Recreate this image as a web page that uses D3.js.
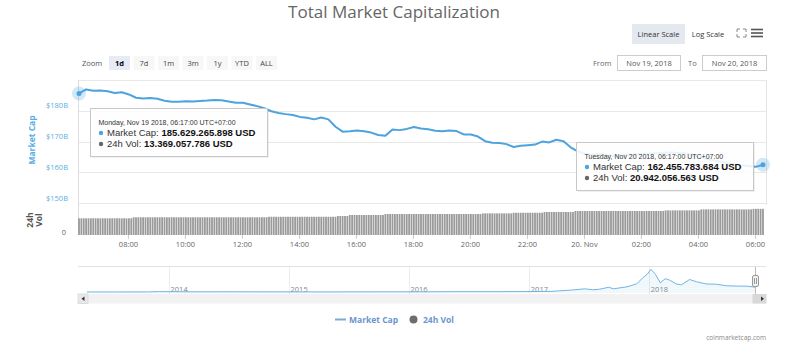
<!DOCTYPE html>
<html>
<head>
<meta charset="utf-8">
<title>Total Market Capitalization</title>
<script src="https://cdn.jsdelivr.net/npm/d3@7"></script>
<style>
  body { margin: 0; background: #fff; }
  text { font-family: "Open Sans", sans-serif; }
</style>
</head>
<body>
<div id="chart"></div>
<script>
// market cap in billions USD, one point every 15 min from Nov 19 2018 06:17
const capStart = Date.UTC(2018, 10, 19, 6, 17);
const capStepMin = 15;
const marketCap = [
  185.63, 186.94, 186.5, 186.6, 186.35, 185.77, 186.0, 185.3, 184.23, 184.0,
  184.14, 183.9, 183.26, 182.93, 182.93, 183.1, 183.0, 183.16, 183.3, 183.5,
  183.4, 183.0, 182.6, 182.6, 182.05, 181.5, 180.8, 179.84, 179.3, 178.9,
  178.6, 178.0, 177.7, 177.2, 177.8, 177.2, 174.8, 173.2, 173.3, 173.6,
  173.3, 172.9, 172.1, 171.86, 173.9, 173.7, 174.1, 174.7, 174.2, 174.0,
  173.5, 173.35, 173.6, 173.4, 172.3, 172.25, 171.6, 170.1, 169.6, 169.5,
  169.15, 168.2, 168.6, 168.8, 169.0, 169.97, 169.7, 170.55, 170.06, 168.1,
  166.8, 166.0, 165.7, 166.0, 165.7, 165.3, 165.5, 165.7, 165.8, 166.0,
  166.06, 166.2, 166.3, 166.4, 166.3, 166.15, 165.7, 165.0, 164.4, 163.9,
  163.4, 162.9, 162.6, 162.25, 162.0, 161.76, 162.46
];

// 24h volume in billions USD, one bar every 5 min (one row = one hour)
const volStepMin = 5;
const volume24h = [
  13.37,13.37,13.37,13.37,13.37,13.37,13.37,13.37,13.37,13.37,13.37,13.37,
  13.37,13.37,13.37,13.37,13.37,13.37,13.37,13.37,13.37,13.37,13.37,14.2,
  14.2,14.2,14.2,14.2,14.2,14.2,14.2,14.2,14.2,14.2,14.2,14.2,
  14.2,14.2,14.2,14.2,14.2,14.2,14.2,14.2,14.2,14.2,14.2,14.2,
  14.2,14.2,14.2,14.2,14.2,14.2,14.2,14.2,14.2,14.2,14.2,14.2,
  14.2,14.2,14.2,14.2,14.2,14.2,14.2,14.2,14.2,14.2,14.2,14.2,
  14.2,14.2,14.2,14.2,14.2,14.2,14.2,14.2,14.6,14.6,14.6,14.6,
  14.6,14.6,14.6,14.6,14.6,14.6,14.6,14.6,14.6,14.6,14.6,14.6,
  14.6,14.6,14.6,14.6,14.6,14.6,14.6,14.6,14.6,14.6,14.6,14.6,
  14.6,15.2,15.2,15.2,15.2,15.2,16.0,16.0,16.0,16.0,16.0,16.0,
  16.0,16.0,16.0,16.0,16.0,16.0,16.0,16.0,16.0,16.8,16.8,16.8,
  16.8,16.8,16.8,16.8,16.8,16.8,16.8,16.8,16.8,16.8,16.8,16.8,
  16.8,16.8,16.8,16.8,16.8,16.8,16.8,16.8,16.8,16.8,16.8,16.8,
  16.8,16.8,16.8,16.8,16.8,16.8,16.8,16.8,16.8,16.8,16.8,16.8,
  16.8,16.8,17.3,17.3,17.3,17.3,17.3,17.3,17.3,17.3,17.3,17.3,
  17.3,17.3,17.3,17.8,17.8,17.8,17.8,17.8,17.8,17.8,17.8,17.8,
  17.8,17.8,17.8,17.8,18.4,18.4,18.4,18.4,18.4,18.4,18.4,18.4,
  18.4,18.4,18.4,18.4,18.4,19.2,19.2,19.2,19.2,19.2,19.2,19.2,
  19.2,19.2,19.2,19.2,19.2,19.2,19.2,19.2,19.2,19.2,19.2,19.2,
  19.2,19.2,19.2,19.2,19.2,19.2,19.2,19.2,19.2,19.2,19.2,19.2,
  19.2,19.2,19.2,19.2,19.2,19.2,19.2,19.7,19.7,19.7,19.7,19.7,
  19.7,19.7,19.7,19.7,19.7,19.7,19.7,19.7,19.7,19.7,20.5,20.5,
  20.5,20.5,20.5,20.5,20.5,20.5,20.5,20.5,20.5,20.5,20.5,20.5,
  20.5,20.5,20.5,20.5,20.5,20.5,20.5,20.5,20.94,20.94,20.94,20.94,
  20.94
];

const capTicks = [150, 160, 170, 180, 190];
const capTickLabels = ["$150B", "$160B", "$170B", "$180B", ""];

// navigator: whole history of total market cap, billions USD
const navDates = [
  "2013-04-28", "2013-08-01", "2013-11-01", "2013-12-04", "2014-01-15", "2014-04-01",
  "2014-07-01", "2014-10-01", "2015-01-15", "2015-06-01", "2015-11-05", "2016-03-01",
  "2016-06-15", "2016-10-01", "2017-01-05", "2017-03-10", "2017-05-14", "2017-06-20",
  "2017-07-16", "2017-08-04", "2017-09-01", "2017-09-15", "2017-10-26", "2017-11-25",
  "2017-12-13", "2017-12-28", "2018-01-07", "2018-01-21", "2018-02-05", "2018-02-20",
  "2018-03-05", "2018-03-26", "2018-04-10", "2018-05-05", "2018-05-26", "2018-06-25",
  "2018-07-26", "2018-08-25", "2018-09-24", "2018-10-26", "2018-11-20"
];
const navValues = [
  1.5, 1.3, 3, 14, 10, 6,
  8, 5.5, 3.5, 3.8, 6, 7,
  12, 11, 17, 22, 72, 115,
  80, 100, 170, 115, 185, 290,
  505, 650, 820, 640, 330, 480,
  430, 290, 260, 450, 370, 290,
  280, 225, 215, 210, 175
];
const navYears = ["2014", "2015", "2016", "2017", "2018"];

const zoomButtons = ["1d", "7d", "1m", "3m", "1y", "YTD", "ALL"];

const W = 803, H = 351;
const lineColor = "#4ca3dd";

const svg = d3.select("#chart").append("svg")
    .attr("width", W)
    .attr("height", H);

// title
svg.append("text")
    .attr("x", 394).attr("y", 17.5)
    .attr("text-anchor", "middle")
    .attr("font-size", 17)
    .attr("fill", "#666")
    .text("Total Market Capitalization");

// scale buttons top right
svg.append("rect").attr("x", 632).attr("y", 24).attr("width", 53).attr("height", 20).attr("fill", "#e4e8ef");
svg.append("text").attr("x", 658.5).attr("y", 36.5).attr("text-anchor", "middle")
    .attr("font-size", 7.5).attr("fill", "#333").text("Linear Scale");
svg.append("text").attr("x", 708).attr("y", 36.5).attr("text-anchor", "middle")
    .attr("font-size", 7.5).attr("fill", "#333").text("Log Scale");

// fullscreen icon
const fs = svg.append("g").attr("stroke", "#888").attr("stroke-width", 1).attr("fill", "none");
[[737, 29, 1, 1], [746, 29, -1, 1], [737, 37, 1, -1], [746, 37, -1, -1]].forEach(([cx, cy, dx, dy]) => {
  fs.append("path").attr("d", `M${cx},${cy + 3 * dy} L${cx},${cy} L${cx + 3 * dx},${cy}`);
});
// menu icon
[29.5, 33, 36.5].forEach(yy => {
  svg.append("line").attr("x1", 751).attr("x2", 763).attr("y1", yy).attr("y2", yy)
      .attr("stroke", "#555").attr("stroke-width", 1.6);
});

// zoom buttons
svg.append("text").attr("x", 82).attr("y", 65.5).attr("font-size", 7.5).attr("fill", "#555").text("Zoom");
zoomButtons.forEach((b, i) => {
  const bx = 109 + i * 24.5;
  svg.append("rect").attr("x", bx).attr("y", 56).attr("width", 21).attr("height", 14)
      .attr("fill", i === 0 ? "#e6ebf5" : "#f7f7f7");
  svg.append("text").attr("x", bx + 10.5).attr("y", 65.5).attr("text-anchor", "middle")
      .attr("font-size", 7.5)
      .attr("font-weight", i === 0 ? "bold" : "normal")
      .attr("fill", i === 0 ? "#000" : "#444")
      .text(b);
});

// from / to inputs
svg.append("text").attr("x", 593).attr("y", 65.5).attr("font-size", 7.5).attr("fill", "#666").text("From");
svg.append("rect").attr("x", 617.5).attr("y", 55.5).attr("width", 63).attr("height", 15)
    .attr("fill", "#fff").attr("stroke", "#ccc");
svg.append("text").attr("x", 649).attr("y", 65.5).attr("text-anchor", "middle").attr("font-size", 7.5)
    .attr("fill", "#555").text("Nov 19, 2018");
svg.append("text").attr("x", 688).attr("y", 65.5).attr("font-size", 7.5).attr("fill", "#666").text("To");
svg.append("rect").attr("x", 702.5).attr("y", 55.5).attr("width", 64).attr("height", 15)
    .attr("fill", "#fff").attr("stroke", "#ccc");
svg.append("text").attr("x", 734.5).attr("y", 65.5).attr("text-anchor", "middle").attr("font-size", 7.5)
    .attr("fill", "#555").text("Nov 20, 2018");

// scales
const t0 = new Date(capStart);
const t1 = new Date(capStart + 24 * 3600 * 1000);
const x = d3.scaleUtc().domain([t0, t1]).range([79, 763]);
const yCap = d3.scaleLinear().domain([150, 190]).range([203, 80]);
const yVol = d3.scaleLinear().domain([0, 24]).range([235, 205]);

const capData = marketCap.map((v, i) => ({ t: new Date(capStart + i * capStepMin * 60000), v }));
const volData = volume24h.map((v, i) => ({ t: new Date(capStart + i * volStepMin * 60000), v }));

// grid
svg.append("g").selectAll("line").data(capTicks).join("line")
    .attr("x1", 78).attr("x2", 766)
    .attr("y1", d => Math.round(yCap(d)) + 0.5).attr("y2", d => Math.round(yCap(d)) + 0.5)
    .attr("stroke", "#e8e8e8");
svg.append("g").selectAll("text").data(capTicks).join("text")
    .attr("x", 68).attr("y", d => yCap(d) - 2.5)
    .attr("text-anchor", "end")
    .attr("font-size", 7.5)
    .attr("fill", "#5aaee3")
    .text((d, i) => capTickLabels[i]);

// frame lines
svg.append("line").attr("x1", 78.5).attr("x2", 78.5).attr("y1", 80).attr("y2", 235).attr("stroke", "#ddd");
svg.append("line").attr("x1", 766.5).attr("x2", 766.5).attr("y1", 80).attr("y2", 205).attr("stroke", "#e4e4e4");

// axis titles
svg.append("text")
    .attr("transform", "translate(35,140) rotate(-90)")
    .attr("text-anchor", "middle")
    .attr("font-size", 8.5).attr("font-weight", "bold")
    .attr("fill", "#5aaee3")
    .text("Market Cap");
const vt = svg.append("text")
    .attr("transform", "translate(33,220) rotate(-90)")
    .attr("text-anchor", "middle")
    .attr("font-size", 8.5).attr("font-weight", "bold")
    .attr("fill", "#555");
vt.append("tspan").attr("x", 0).attr("dy", 0).text("24h");
vt.append("tspan").attr("x", 0).attr("dy", 9).text("Vol");
svg.append("text").attr("x", 66).attr("y", 234.5).attr("text-anchor", "end")
    .attr("font-size", 7.5).attr("fill", "#666").text("0");

// volume bars
svg.append("g").selectAll("rect").data(volData).join("rect")
    .attr("x", d => x(d.t) - 0.9)
    .attr("width", 1.8)
    .attr("y", d => yVol(d.v))
    .attr("height", d => yVol(0) - yVol(d.v))
    .attr("fill", "#9a9a9a");

// market cap line
svg.append("path")
    .datum(capData)
    .attr("fill", "none")
    .attr("stroke", lineColor)
    .attr("stroke-width", 2)
    .attr("stroke-linejoin", "round")
    .attr("d", d3.line().x(d => x(d.t)).y(d => yCap(d.v)));

// x axis
const xAxis = d3.axisBottom(x)
    .ticks(d3.utcHour.every(2))
    .tickSize(4)
    .tickFormat(d => d.getUTCHours() === 0 ? d3.utcFormat("%-d. %b")(d) : d3.utcFormat("%H:%M")(d));
const gx = svg.append("g").attr("transform", "translate(0,235)").call(xAxis);
gx.select(".domain").remove();
gx.selectAll(".tick line").attr("stroke", "#ccc");
gx.selectAll(".tick text")
    .attr("font-size", 7.5)
    .attr("font-family", "Open Sans, sans-serif")
    .attr("fill", "#666")
    .attr("y", 7).attr("dy", "0.71em");

// hover markers
function marker(d) {
  svg.append("circle").attr("cx", x(d.t)).attr("cy", yCap(d.v)).attr("r", 7)
      .attr("fill", lineColor).attr("fill-opacity", 0.25);
  svg.append("circle").attr("cx", x(d.t)).attr("cy", yCap(d.v)).attr("r", 2.5)
      .attr("fill", lineColor);
}
marker(capData[0]);
marker(capData[capData.length - 1]);

// tooltips
function tooltip(bx, by, header, cap, vol) {
  const g = svg.append("g").attr("font-family", "Liberation Sans, Arial, sans-serif");
  g.append("rect").attr("x", bx + 1.5).attr("y", by + 1.5).attr("width", 177).attr("height", 48)
      .attr("fill", "#000").attr("fill-opacity", 0.06);
  g.append("rect").attr("x", bx).attr("y", by).attr("width", 177).attr("height", 48)
      .attr("fill", "#fff").attr("fill-opacity", 0.88).attr("stroke", "#c8c8c8");
  g.append("text").attr("x", bx + 8).attr("y", by + 16.5)
      .style("font-family", "Liberation Sans, Arial, sans-serif")
      .attr("font-size", 7).attr("fill", "#333").text(header);
  [[cap, "Market Cap: ", lineColor, 27.5], [vol, "24h Vol: ", "#666", 38.5]].forEach(([val, lab, c, dy]) => {
    g.append("circle").attr("cx", bx + 10.5).attr("cy", by + dy - 3).attr("r", 2.2).attr("fill", c);
    const t = g.append("text").attr("x", bx + 16.5).attr("y", by + dy)
        .style("font-family", "Liberation Sans, Arial, sans-serif")
        .attr("font-size", 9.5).attr("fill", "#333");
    t.append("tspan").text(lab);
    t.append("tspan").attr("font-weight", "bold").attr("fill", "#111").text(val);
  });
}
tooltip(90.5, 108.5, "Monday, Nov 19 2018, 06:17:00 UTC+07:00", "185.629.265.898 USD", "13.369.057.786 USD");
tooltip(576.5, 142.5, "Tuesday, Nov 20 2018, 06:17:00 UTC+07:00", "162.455.783.684 USD", "20.942.056.563 USD");

// navigator
const navParse = d3.utcParse("%Y-%m-%d");
const navData = navDates.map((d, i) => ({ t: navParse(d), v: navValues[i] }));
const xNav = d3.scaleUtc().domain([navData[0].t, navData[navData.length - 1].t]).range([87, 755]);
const yNav = d3.scaleLinear().domain([0, 830]).range([292, 269]);

svg.append("line").attr("x1", 78).attr("x2", 766).attr("y1", 266.5).attr("y2", 266.5).attr("stroke", "#e2e2e2");
svg.append("g").selectAll("line").data(navYears).join("line")
    .attr("x1", d => Math.round(xNav(navParse(d + "-01-01"))) + 0.5)
    .attr("x2", d => Math.round(xNav(navParse(d + "-01-01"))) + 0.5)
    .attr("y1", 267).attr("y2", 294)
    .attr("stroke", "#ececec");
svg.append("path").datum(navData)
    .attr("fill", lineColor).attr("fill-opacity", 0.08)
    .attr("d", d3.area().x(d => xNav(d.t)).y0(293).y1(d => yNav(d.v)));
svg.append("g").selectAll("text").data(navYears).join("text")
    .attr("x", d => xNav(navParse(d + "-01-01")) + 2)
    .attr("y", 292)
    .attr("font-size", 7.5)
    .attr("fill", "#888")
    .text(d => d);
svg.append("path").datum(navData)
    .attr("fill", "none").attr("stroke", "#6fb6e4").attr("stroke-width", 1)
    .attr("d", d3.line().x(d => xNav(d.t)).y(d => yNav(d.v)));

// selection outline + handle
svg.append("line").attr("x1", 755.5).attr("x2", 755.5).attr("y1", 267).attr("y2", 294).attr("stroke", "#bbb");
svg.append("rect").attr("x", 752.5).attr("y", 275.5).attr("width", 6).attr("height", 11).attr("rx", 1.5)
    .attr("fill", "#f2f2f2").attr("stroke", "#999");
[754.5, 756.5].forEach(lx => svg.append("line").attr("x1", lx).attr("x2", lx).attr("y1", 278).attr("y2", 284)
    .attr("stroke", "#999"));

// scrollbar
svg.append("rect").attr("x", 78).attr("y", 294).attr("width", 688).attr("height", 9.5).attr("fill", "#f2f2f2");
svg.append("rect").attr("x", 78).attr("y", 294).attr("width", 10).attr("height", 9.5)
    .attr("fill", "#e8e8e8").attr("stroke", "#ddd");
svg.append("path").attr("d", "M84.5,296.5 L81.5,298.8 L84.5,301 Z").attr("fill", "#333");
svg.append("rect").attr("x", 752.5).attr("y", 294).attr("width", 14).attr("height", 9.5).attr("fill", "#d8d8d8");
svg.append("path").attr("d", "M761,296.5 L764,298.8 L761,301 Z").attr("fill", "#333");

// legend
svg.append("line").attr("x1", 335).attr("x2", 346).attr("y1", 319.5).attr("y2", 319.5)
    .attr("stroke", "#7ba9dc").attr("stroke-width", 2);
svg.append("text").attr("x", 349).attr("y", 322.5).attr("font-size", 8.5).attr("font-weight", "bold")
    .attr("fill", "#6b95cf").text("Market Cap");
svg.append("circle").attr("cx", 413.5).attr("cy", 319.5).attr("r", 4).attr("fill", "#6e6e6e");
svg.append("text").attr("x", 423).attr("y", 322.5).attr("font-size", 8.5).attr("font-weight", "bold")
    .attr("fill", "#6b95cf").text("24h Vol");

// credits
svg.append("text").attr("x", 766).attr("y", 339.5).attr("text-anchor", "end")
    .attr("font-size", 6.5).attr("fill", "#888").text("coinmarketcap.com");
</script>
</body>
</html>
